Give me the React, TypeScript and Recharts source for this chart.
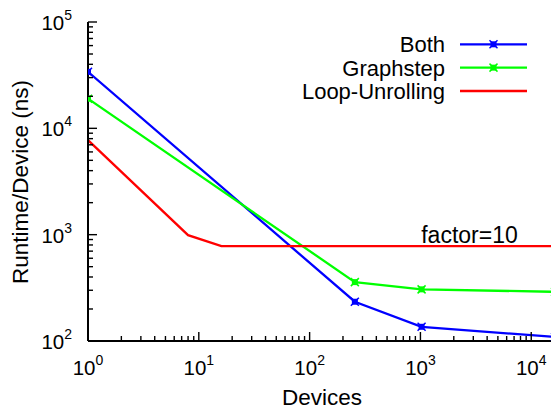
import React from 'react';
import { LineChart, Line, XAxis, YAxis } from 'recharts';

// values (log-log)
const measuredDevices = [1, 256, 1024, 16384];
const bothNs = [34000, 234, 136, 109];
const graphstepNs = [19000, 358, 306, 290];
const unrollDevices = [1, 8, 16, 256, 1024, 16384];
const unrollNs = [7750, 990, 780, 780, 780, 780];

const xTicks = [1, 2, 3, 4, 5, 6, 7, 8, 9, 10, 20, 30, 40, 50, 60, 70, 80, 90, 100, 200, 300, 400, 500, 600, 700, 800, 900, 1000, 2000, 3000, 4000, 5000, 6000, 7000, 8000, 9000, 10000];
const yTicks = [100, 200, 300, 400, 500, 600, 700, 800, 900, 1000, 2000, 3000, 4000, 5000, 6000, 7000, 8000, 9000, 10000, 20000, 30000, 40000, 50000, 60000, 70000, 80000, 90000, 100000];

const FONT = '"Liberation Sans", Arial, Helvetica, sans-serif';

const bothData = measuredDevices.map((d, i) => ({ devices: d, ns: bothNs[i] }));
const graphstepData = measuredDevices.map((d, i) => ({ devices: d, ns: graphstepNs[i] }));
const unrollData = unrollDevices.map((d, i) => ({ devices: d, ns: unrollNs[i] }));

const isMajor = (v: number) => Math.abs(Math.log10(v) - Math.round(Math.log10(v))) < 1e-6;

const YTick = (props: any) => {
  const { x, y, payload } = props;
  const v = payload.value;
  const major = isMajor(v);
  return (
    <g>
      <line x1={x} x2={x + (major ? 9 : 5)} y1={y} y2={y} stroke="#000" strokeWidth={1.4} />
      {major && (
        <text x={x - 16} y={y + 8} textAnchor="end" fontFamily={FONT} fontSize={20.5} fill="#000">
          10<tspan dy={-10} fontSize={14}>{Math.round(Math.log10(v))}</tspan>
        </text>
      )}
    </g>
  );
};

const XTick = (props: any) => {
  const { x, y, payload } = props;
  const v = payload.value;
  const major = isMajor(v);
  return (
    <g>
      <line x1={x} x2={x} y1={y} y2={y - (major ? 9 : 5)} stroke="#000" strokeWidth={1.4} />
      {major && (
        <text x={x} y={y + 34} textAnchor="middle" fontFamily={FONT} fontSize={20.5} fill="#000">
          10<tspan dy={-10} fontSize={14}>{Math.round(Math.log10(v))}</tspan>
        </text>
      )}
    </g>
  );
};

const TopTick = (props: any) => {
  const { x, y, payload } = props;
  const major = isMajor(payload.value);
  return <line x1={x} x2={x} y1={y} y2={y + (major ? 9 : 5)} stroke="#000" strokeWidth={1.4} />;
};

const Marker = ({ cx, cy, color }: { cx: number; cy: number; color: string }) => (
  <g>
    <rect x={cx - 3} y={cy - 3} width={6} height={6} fill={color} />
    <line x1={cx - 4} y1={cy - 4} x2={cx + 4} y2={cy + 4} stroke={color} strokeWidth={1.5} />
    <line x1={cx - 4} y1={cy + 4} x2={cx + 4} y2={cy - 4} stroke={color} strokeWidth={1.5} />
  </g>
);

const dotFor = (color: string) => (p: any) =>
  p.cx == null || p.cy == null ? <g key={p.index} /> : (
    <g key={p.index}><Marker cx={p.cx} cy={p.cy} color={color} /></g>
  );

const legend = [
  { name: 'Both', color: '#0000ff', marker: true },
  { name: 'Graphstep', color: '#00ff00', marker: true },
  { name: 'Loop-Unrolling', color: '#ff0000', marker: false },
];

export default function App() {
  return (
    <div style={{ position: 'fixed', left: 0, top: 0, width: 551, height: 410, overflow: 'hidden', background: '#fff' }}>
      <LineChart width={570} height={410} margin={{ top: 22, right: 15, bottom: 0, left: 0 }}>
        <XAxis
          dataKey="devices"
          type="number"
          scale="log"
          domain={[1, 16384]}
          ticks={xTicks}
          interval={0}
          height={69}
          tickSize={0}
          tickMargin={0}
          tick={<XTick />}
          axisLine={{ stroke: '#000', strokeWidth: 2 }}
          allowDataOverflow
        />
        <XAxis
          xAxisId="top"
          orientation="top"
          dataKey="devices"
          type="number"
          scale="log"
          domain={[1, 16384]}
          ticks={xTicks}
          interval={0}
          height={0}
          tickSize={0}
          tickMargin={0}
          tick={<TopTick />}
          axisLine={{ stroke: '#000', strokeWidth: 2 }}
          allowDataOverflow
        />
        <YAxis
          dataKey="ns"
          type="number"
          scale="log"
          domain={[100, 100000]}
          ticks={yTicks}
          interval={0}
          width={88}
          tickSize={0}
          tickMargin={0}
          tick={<YTick />}
          axisLine={{ stroke: '#000', strokeWidth: 2 }}
          allowDataOverflow
        />
        <Line data={bothData} dataKey="ns" name="Both" stroke="#0000ff" strokeWidth={2.3} dot={dotFor('#0000ff')} activeDot={false} isAnimationActive={false} />
        <Line data={graphstepData} dataKey="ns" name="Graphstep" stroke="#00ff00" strokeWidth={2.3} dot={dotFor('#00ff00')} activeDot={false} isAnimationActive={false} />
        <Line data={unrollData} dataKey="ns" name="Loop-Unrolling" stroke="#ff0000" strokeWidth={2.3} dot={false} activeDot={false} isAnimationActive={false} />
      </LineChart>
      <svg width={551} height={410} style={{ position: 'absolute', left: 0, top: 0, pointerEvents: 'none' }}>
        <text x={28} y={182} transform="rotate(-90 28 182)" textAnchor="middle" fontFamily={FONT} fontSize={22.5} fill="#000">
          Runtime/Device (ns)
        </text>
        <text x={322} y={405} textAnchor="middle" fontFamily={FONT} fontSize={22.5} fill="#000">Devices</text>
        <text x={469.5} y={242.7} textAnchor="middle" fontFamily={FONT} fontSize={23} fill="#000">factor=10</text>
        {legend.map((l, i) => {
          const cy = 44.3 + i * 23.35;
          return (
            <g key={l.name}>
              <text x={445} y={cy + 8} textAnchor="end" fontFamily={FONT} fontSize={22} fill="#000">{l.name}</text>
              <line x1={460} x2={527} y1={cy} y2={cy} stroke={l.color} strokeWidth={2.3} />
              {l.marker && <Marker cx={493.5} cy={cy} color={l.color} />}
            </g>
          );
        })}
      </svg>
    </div>
  );
}
